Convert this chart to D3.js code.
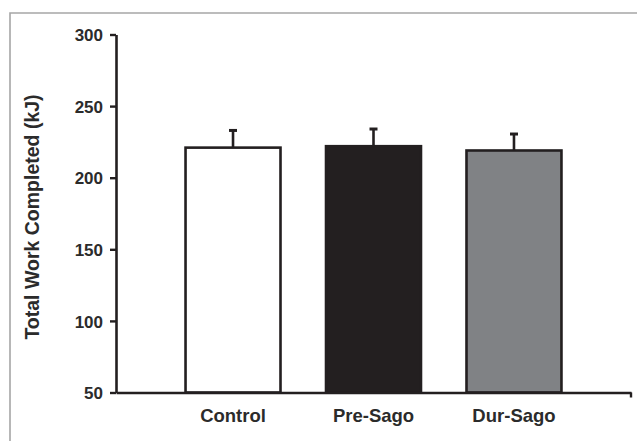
<!DOCTYPE html>
<html>
<head>
<meta charset="utf-8">
<script src="https://cdn.jsdelivr.net/npm/d3@7/dist/d3.min.js"></script>
<style>
  html, body { margin: 0; padding: 0; background: #ffffff; }
  svg { display: block; }
  text { font-family: "Liberation Sans", Arial, sans-serif; font-weight: bold; fill: #2b2b2b; }
</style>
</head>
<body>
<svg id="chart" width="637" height="441"></svg>
<script>
const categories = ["Control", "Pre-Sago", "Dur-Sago"];
const means = [221, 222, 219];
const errors = [12, 12, 11.5];
const barColors = ["#ffffff", "#231f20", "#808285"];
const yTicks = [50, 100, 150, 200, 250, 300];
const yTitle = "Total Work Completed (kJ)";

const svg = d3.select("#chart");
const W = 637, H = 441;
const plotL = 116, plotR = 631, plotT = 34.5, plotB = 392.5;

// outer frame
svg.append("rect").attr("x", 0).attr("y", 0).attr("width", W).attr("height", H).attr("fill", "#ffffff");
svg.append("path")
  .attr("d", `M10,${H + 2} L10,13 L${W + 2},13`)
  .attr("fill", "none").attr("stroke", "#a6a6a6").attr("stroke-width", 1.6);

const x = d3.scaleBand().domain(categories).range([plotL, plotR]).paddingInner(0.324).paddingOuter(0.495);
const y = d3.scaleLinear().domain([50, 300]).range([plotB, plotT]);

const ink = "#231f20";

// bars
svg.append("g").selectAll("rect").data(categories).join("rect")
  .attr("x", d => x(d))
  .attr("y", (d, i) => y(means[i]))
  .attr("width", x.bandwidth())
  .attr("height", (d, i) => y(50) - y(means[i]))
  .attr("fill", (d, i) => barColors[i])
  .attr("stroke", ink).attr("stroke-width", 2.6);

// error bars (upper only)
const eb = svg.append("g");
categories.forEach((c, i) => {
  const cx = x(c) + x.bandwidth() / 2;
  eb.append("line").attr("x1", cx).attr("x2", cx)
    .attr("y1", y(means[i])).attr("y2", y(means[i] + errors[i]))
    .attr("stroke", ink).attr("stroke-width", 2.6);
  eb.append("line").attr("x1", cx - 4).attr("x2", cx + 4)
    .attr("y1", y(means[i] + errors[i])).attr("y2", y(means[i] + errors[i]))
    .attr("stroke", ink).attr("stroke-width", 3);
});

// y axis
const yAxis = d3.axisLeft(y).tickValues(yTicks).tickSize(6).tickPadding(7).tickSizeOuter(0);
const gy = svg.append("g").attr("transform", `translate(${plotL},0)`).call(yAxis);
gy.select(".domain").attr("stroke", ink).attr("stroke-width", 2.6);
gy.selectAll(".tick line").attr("stroke", ink).attr("stroke-width", 2.4);
gy.selectAll(".tick text").attr("font-size", 17).attr("font-family", "Liberation Sans, Arial, sans-serif")
  .attr("font-weight", "bold").attr("fill", "#2b2b2b").attr("dy", "0.36em");

// x axis
const xAxis = d3.axisBottom(x).tickSize(0).tickPadding(16).tickSizeOuter(0);
const gx = svg.append("g").attr("transform", `translate(0,${plotB})`).call(xAxis);
gx.select(".domain").attr("stroke", ink).attr("stroke-width", 2.6);
gx.selectAll(".tick text").attr("font-size", 18.5).attr("font-family", "Liberation Sans, Arial, sans-serif")
  .attr("font-weight", "bold").attr("fill", "#2b2b2b");
// right end tick
svg.append("line").attr("x1", plotR).attr("x2", plotR).attr("y1", plotB).attr("y2", plotB + 5)
  .attr("stroke", ink).attr("stroke-width", 2.4);

// y title
svg.append("text")
  .attr("transform", `translate(39,${(88 + 346) / 2}) rotate(-90)`)
  .attr("text-anchor", "middle")
  .attr("font-size", 19.5)
  .text(yTitle);
</script>
</body>
</html>
